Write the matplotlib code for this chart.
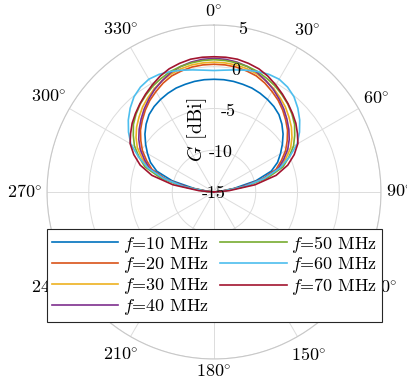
import numpy as np
import matplotlib.pyplot as plt

plt.rcParams['font.family'] = ['cmr10', 'DejaVu Serif']
plt.rcParams['mathtext.fontset'] = 'cm'
plt.rcParams['axes.unicode_minus'] = False
plt.rcParams['axes.formatter.use_mathtext'] = True

# elevation angle from zenith [deg] and gain [dBi] per frequency
theta_deg = [-90, -85, -80, -75, -70, -65, -60, -55, -50, -45, -40, -35, -30,
             -25, -20, -15, -10, -5, 0, 5, 10, 15, 20, 25, 30, 35, 40, 45,
             50, 55, 60, 65, 70, 75, 80, 85, 90]

g_10 = [-15, -14.4, -12.6, -9.8, -7.7, -6.6, -5.8, -5.0, -4.2, -3.5, -2.9, -2.5, -2.2,
        -1.95, -1.75, -1.65, -1.55, -1.5, -1.5, -1.5, -1.55, -1.65, -1.75, -1.95, -2.2,
        -2.5, -2.9, -3.5, -4.2, -5.0, -5.8, -6.6, -7.7, -9.8, -12.6, -14.4, -15]
g_20 = [-15, -14.2, -11.8, -9.0, -7.1, -6.1, -5.1, -4.3, -3.5, -2.85, -2.2, -1.6, -1.1,
        -0.6, -0.2, 0.02, 0.2, 0.28, 0.3, 0.28, 0.2, 0.02, -0.2, -0.6, -1.1,
        -1.6, -2.2, -2.85, -3.5, -4.3, -5.1, -6.1, -7.1, -9.0, -11.8, -14.2, -15]
g_30 = [-15, -14.0, -11.5, -8.6, -6.6, -5.5, -4.4, -3.6, -2.9, -2.3, -1.7, -1.2, -0.7,
        -0.3, 0.05, 0.28, 0.45, 0.52, 0.55, 0.52, 0.45, 0.28, 0.05, -0.3, -0.7,
        -1.2, -1.7, -2.3, -2.9, -3.6, -4.4, -5.5, -6.6, -8.6, -11.5, -14.0, -15]
g_40 = [-15, -14.1, -11.7, -8.8, -6.8, -5.8, -4.8, -4.0, -3.3, -2.65, -2.0, -1.4, -0.8,
        -0.3, 0.2, 0.55, 0.8, 0.95, 1.0, 0.95, 0.8, 0.55, 0.2, -0.3, -0.8,
        -1.4, -2.0, -2.65, -3.3, -4.0, -4.8, -5.8, -6.8, -8.8, -11.7, -14.1, -15]
g_50 = [-15, -13.9, -11.2, -8.3, -6.2, -5.1, -4.0, -3.2, -2.4, -1.8, -1.25, -0.8, -0.35,
        0.0, 0.35, 0.55, 0.7, 0.8, 0.85, 0.8, 0.7, 0.55, 0.35, 0.0, -0.35,
        -0.8, -1.25, -1.8, -2.4, -3.2, -4.0, -5.1, -6.2, -8.3, -11.2, -13.9, -15]
g_60 = [-15, -13.9, -11.4, -8.8, -6.6, -5.0, -3.5, -2.5, -1.6, -0.8, -0.1, 0.35, 0.6,
        0.55, 0.35, 0.1, -0.15, -0.35, -0.45, -0.35, -0.15, 0.1, 0.35, 0.55, 0.6,
        0.35, -0.1, -0.8, -1.6, -2.5, -3.5, -5.0, -6.6, -8.8, -11.4, -13.9, -15]
g_70 = [-15, -13.2, -10.0, -7.3, -5.6, -4.4, -3.4, -2.8, -2.2, -1.7, -1.2, -0.7, -0.2,
        0.3, 0.7, 0.95, 1.15, 1.2, 1.2, 1.2, 1.15, 0.95, 0.7, 0.3, -0.2,
        -0.7, -1.2, -1.7, -2.2, -2.8, -3.4, -4.4, -5.6, -7.3, -10.0, -13.2, -15]

freqs = [10, 20, 30, 40, 50, 60, 70]
gains = [g_10, g_20, g_30, g_40, g_50, g_60, g_70]
colors = ['#0072BD', '#D95319', '#EDB120', '#7E2F8E', '#77AC30', '#4DBEEE', '#A2142F']

r_min, r_max = -15, 5
r_ticks = [-15, -10, -5, 0, 5]
theta_ticks = list(range(0, 360, 30))

fig = plt.figure(figsize=(4.07, 3.83), dpi=100)
ax = fig.add_axes([0.1155, 0.0627, 0.8206, 0.872], projection='polar')
ax.set_theta_zero_location('N')
ax.set_theta_direction(-1)

th = np.deg2rad(theta_deg)
for f, g, c in zip(freqs, gains, colors):
    ax.plot(th, np.maximum(g, r_min), color=c, lw=1.2, label='$f$=%d MHz' % f)

ax.set_rlim(r_min, r_max)
ax.set_rticks(r_ticks)
ax.set_yticklabels([])
ax.set_thetagrids(theta_ticks, [''] * len(theta_ticks))

# radial labels sit on the rings, a little clockwise of the zenith
for v in r_ticks:
    ax.text(np.deg2rad(10), v, str(v), ha='center', va='center_baseline', fontsize=13)

# angle labels: keep a fixed gap between the outer ring and the text box
gap = 5
ang_labels = []
for a in theta_ticks:
    t = ax.annotate(r'$%d\!^\circ$' % a, xy=(np.deg2rad(a), r_max),
                    xytext=(0, 0), textcoords='offset pixels',
                    ha='center', va='center', fontsize=13, annotation_clip=False)
    ang_labels.append((a, t))

fig.canvas.draw()
renderer = fig.canvas.get_renderer()
for a, t in ang_labels:
    bb = t.get_window_extent(renderer)
    s, c = np.sin(np.deg2rad(a)), np.cos(np.deg2rad(a))
    d = gap + bb.width / 2 * abs(s) + bb.height / 2 * abs(c)
    t.xyann = (d * s, d * c)

ax.grid(True, color='#dcdcdc', lw=0.7)
ax.spines['polar'].set_color('#c8c8c8')
ax.spines['polar'].set_linewidth(0.8)

fig.text(0.484, 0.66, r'$G$ [dBi]', rotation=90, ha='center', va='center', fontsize=14.5)

leg = fig.legend(loc='upper left', bbox_to_anchor=(0.1155, 0.402), ncol=2,
                 fontsize=13, frameon=True, fancybox=False, framealpha=1,
                 handlelength=3.7, handletextpad=0.25, columnspacing=0.6,
                 labelspacing=0.05, borderaxespad=0, borderpad=0.25)
leg.get_frame().set_edgecolor('#262626')
leg.get_frame().set_linewidth(0.8)

fig.savefig('out.png', dpi=100)
